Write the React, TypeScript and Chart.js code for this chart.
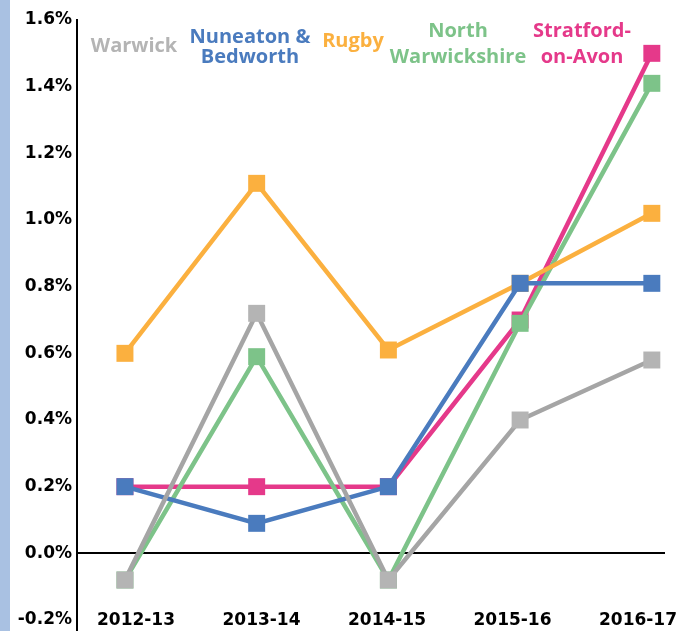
import React, { useEffect, useRef } from 'react';
import { Chart, registerables } from 'chart.js';

Chart.register(...registerables);

// ---- data ----
const categories = ['2012-13', '2013-14', '2014-15', '2015-16', '2016-17'];
const seriesNames = ['Warwick', 'Nuneaton & Bedworth', 'Rugby', 'North Warwickshire', 'Stratford-on-Avon'];
const warwick = [-0.08, 0.72, -0.08, 0.40, 0.58];
const nuneaton = [0.20, 0.09, 0.20, 0.81, 0.81];
const rugby = [0.60, 1.11, 0.61, 0.81, 1.02];
const northWarwickshire = [-0.08, 0.59, -0.08, 0.69, 1.41];
const stratford = [0.20, 0.20, 0.20, 0.70, 1.50];
const yTicks = [-0.2, 0, 0.2, 0.4, 0.6, 0.8, 1.0, 1.2, 1.4, 1.6];

// ---- styles ----
const lineColors = ['#A5A5A5', '#4A7BBE', '#FBB03F', '#7DC389', '#E5398A'];
const markerColors = ['#B4B4B4', '#4A7BBE', '#FBB03F', '#7DC389', '#E5398A'];
const legendLines = [['Warwick'], ['Nuneaton &', 'Bedworth'], ['Rugby'], ['North', 'Warwickshire'], ['Stratford-', 'on-Avon']];
const legendPos = [
  { x: 134, y: [52] },
  { x: 250, y: [43, 63] },
  { x: 353, y: [47] },
  { x: 458, y: [37, 63] },
  { x: 582, y: [37, 63] },
];

const W = 679;
const H = 631;

const labelPlugin = {
  id: 'seriesLabels',
  afterDraw(chart: any) {
    const ctx = chart.ctx;
    ctx.save();
    ctx.font = 'bold 20px "Open Sans", sans-serif';
    ctx.textAlign = 'center';
    ctx.textBaseline = 'alphabetic';
    legendLines.forEach((lines, i) => {
      ctx.fillStyle = markerColors[i];
      lines.forEach((t, j) => ctx.fillText(t, legendPos[i].x, legendPos[i].y[j]));
    });
    ctx.restore();
  },
};

const tickFont = { family: '"DejaVu Sans", sans-serif', size: 17, weight: 'bold' };

export default function App() {
  const ref = useRef<HTMLCanvasElement | null>(null);

  useEffect(() => {
    let chart: any = null;
    let cancelled = false;
    const series = [warwick, nuneaton, rugby, northWarwickshire, stratford];
    const create = () => {
      if (cancelled || !ref.current) return;
      chart = new Chart(ref.current, {
        type: 'line',
        data: {
          datasets: series.map((vals, i) => ({
            label: seriesNames[i],
            data: vals.map((v, k) => ({ x: k, y: v })),
            xAxisID: 'x',
            yAxisID: 'y',
            borderColor: lineColors[i],
            backgroundColor: markerColors[i],
            borderWidth: 4.5,
            pointStyle: 'rect',
            pointRadius: 12,
            pointBorderWidth: 0,
            pointBackgroundColor: markerColors[i],
            pointBorderColor: markerColors[i],
            tension: 0,
            clip: false,
          })),
        },
        options: {
          responsive: false,
          animation: false,
          events: [],
          layout: { autoPadding: false, padding: { top: 20, right: 14, bottom: 0, left: 0 } },
          plugins: { legend: { display: false }, tooltip: { enabled: false } },
          scales: {
            x: {
              type: 'linear',
              display: false,
              min: -0.364,
              max: 4.1,
            },
            xl: {
              type: 'linear',
              position: 'bottom',
              min: -0.47,
              max: 4.215,
              afterBuildTicks: (s: any) => {
                s.ticks = categories.map((_, k) => ({ value: k }));
              },
              afterFit: (s: any) => {
                s.paddingLeft = 0;
                s.paddingRight = 0;
                s.height = 0;
              },
              ticks: {
                mirror: true,
                padding: 0,
                autoSkip: false,
                maxRotation: 0,
                minRotation: 0,
                color: '#000',
                font: tickFont,
                callback: (v: any) => categories[Math.round(Number(v))] ?? '',
              },
              grid: { display: false, drawTicks: false },
              border: { display: false },
            },
            y: {
              type: 'linear',
              min: -0.233,
              max: 1.6,
              afterBuildTicks: (s: any) => {
                s.ticks = yTicks.map((v) => ({ value: v }));
              },
              afterFit: (s: any) => {
                s.width = 77;
                s.paddingTop = 0;
                s.paddingBottom = 0;
              },
              ticks: {
                padding: 5,
                color: '#000',
                font: tickFont,
                callback: (v: any) => Number(v).toFixed(1) + '%',
              },
              grid: {
                drawTicks: false,
                lineWidth: 2,
                color: (c: any) => (c.tick && Math.abs(c.tick.value) < 1e-9 ? '#000' : 'rgba(0,0,0,0)'),
              },
              border: { display: true, color: '#000', width: 2 },
            },
          },
        },
        plugins: [labelPlugin],
      } as any);
    };
    const fontsReady = (document as any).fonts
      ? Promise.all([
          (document as any).fonts.load('bold 20px "Open Sans"'),
          (document as any).fonts.load('bold 17px "DejaVu Sans"'),
        ]).catch(() => null)
      : Promise.resolve(null);
    fontsReady.then(create);
    return () => {
      cancelled = true;
      if (chart) chart.destroy();
    };
  }, []);

  return (
    <div style={{ position: 'fixed', left: 0, top: 0, width: W, height: H, background: '#fff' }}>
      <div style={{ position: 'absolute', left: 0, top: 0, width: 10, height: H, background: '#A9C1E2' }} />
      <canvas ref={ref} width={W} height={H} style={{ position: 'absolute', left: 0, top: 0, display: 'block' }} />
    </div>
  );
}
